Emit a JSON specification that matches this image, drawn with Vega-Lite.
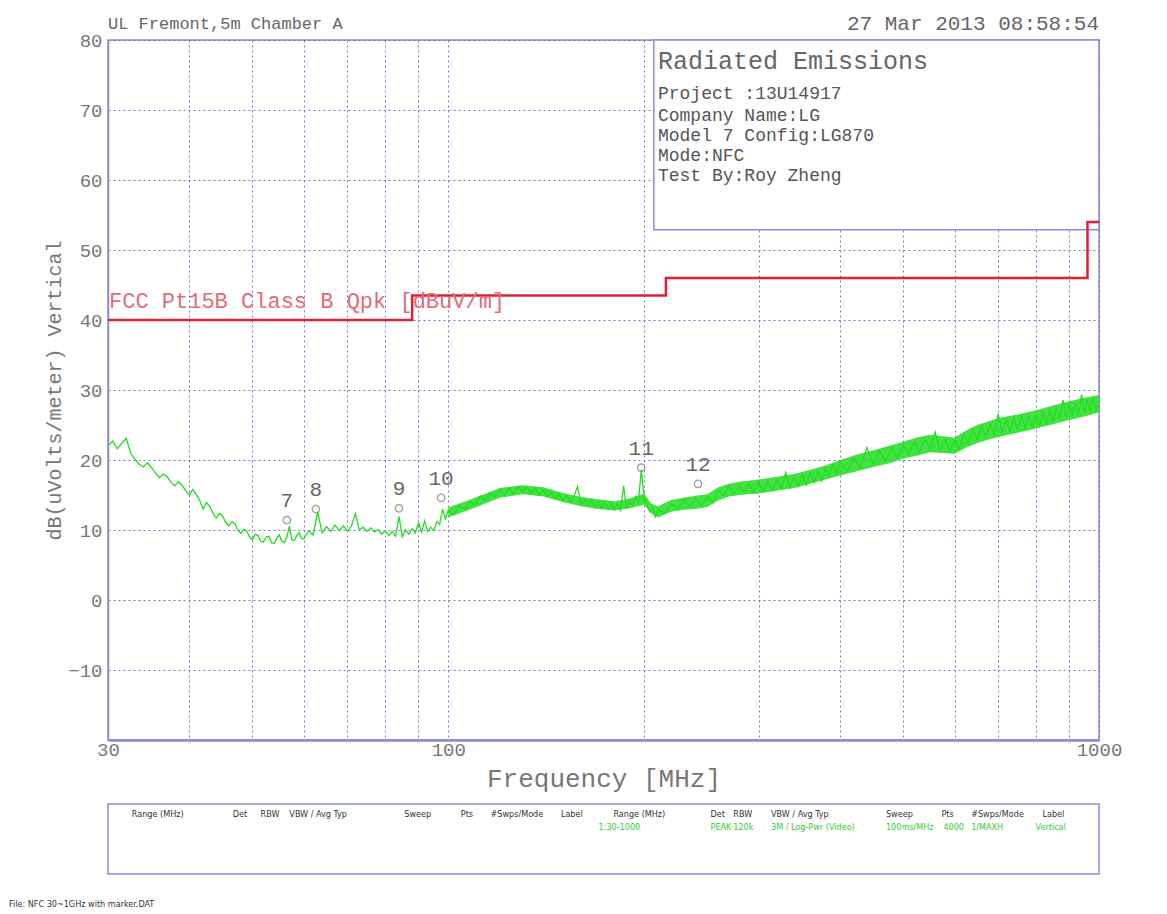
{
  "$schema": "https://vega.github.io/schema/vega-lite/v6.json",
  "background": "white",
  "padding": {"left": 8, "top": 12, "right": 5, "bottom": 5},
  "spacing": 11,
  "datasets": {
    "trace": [
      {"f":30,"v":22.0},{"f":30.5,"v":22.7},{"f":31,"v":21.6},{"f":31.5,"v":22.4},{"f":32,"v":23.1},{"f":32.5,"v":21.0},{"f":33,"v":20.1},{"f":33.5,"v":19.4},{"f":34,"v":19.0},{"f":34.5,"v":19.6},
      {"f":35,"v":18.9},{"f":35.5,"v":18.1},{"f":36,"v":17.5},{"f":36.5,"v":18.0},{"f":37,"v":17.6},{"f":37.5,"v":16.8},{"f":38,"v":16.3},{"f":38.5,"v":16.9},{"f":39,"v":16.4},{"f":39.5,"v":15.6},
      {"f":40,"v":15.0},{"f":40.5,"v":15.8},{"f":41,"v":15.1},{"f":41.5,"v":14.2},{"f":42,"v":13.0},{"f":42.5,"v":13.9},{"f":43,"v":13.4},{"f":43.5,"v":12.4},{"f":44,"v":11.7},{"f":44.5,"v":12.4},
      {"f":45,"v":12.0},{"f":45.5,"v":11.1},{"f":46,"v":10.6},{"f":46.5,"v":11.2},{"f":47,"v":10.9},{"f":47.5,"v":10.0},{"f":48,"v":9.5},{"f":48.5,"v":10.1},{"f":49,"v":9.9},{"f":49.5,"v":9.0},
      {"f":50,"v":8.6},{"f":50.5,"v":9.4},{"f":51,"v":9.2},{"f":51.5,"v":8.4},{"f":52,"v":8.3},{"f":52.5,"v":9.0},{"f":53,"v":9.1},{"f":53.5,"v":8.2},{"f":54,"v":8.1},{"f":54.5,"v":8.8},
      {"f":55,"v":9.3},{"f":55.5,"v":8.4},{"f":56,"v":8.2},{"f":56.5,"v":9.0},{"f":57,"v":10.6},{"f":57.5,"v":8.6},{"f":58,"v":8.5},{"f":58.5,"v":9.2},{"f":59,"v":9.6},{"f":59.5,"v":8.8},
      {"f":60,"v":8.7},{"f":61,"v":9.9},{"f":62,"v":9.3},{"f":63,"v":12.6},{"f":64,"v":9.6},{"f":65,"v":10.5},{"f":66,"v":9.8},{"f":67,"v":10.7},{"f":68,"v":9.9},{"f":69,"v":10.6},
      {"f":70,"v":9.8},{"f":71,"v":10.6},{"f":72,"v":12.3},{"f":73,"v":10.0},{"f":74,"v":10.4},{"f":75,"v":9.8},{"f":76,"v":10.3},{"f":77,"v":9.7},{"f":78,"v":10.1},{"f":79,"v":9.4},
      {"f":80,"v":9.9},{"f":81,"v":9.2},{"f":82,"v":9.8},{"f":83,"v":9.1},{"f":84,"v":11.9},{"f":85,"v":9.0},{"f":86,"v":10.0},{"f":87,"v":9.4},{"f":88,"v":10.2},{"f":89,"v":9.6},
      {"f":90,"v":11.0},{"f":91,"v":9.7},{"f":92,"v":11.3},{"f":93,"v":9.8},{"f":94,"v":10.4},{"f":95,"v":9.9},{"f":96,"v":11.2},{"f":97,"v":10.8},{"f":98,"v":13.0},{"f":99,"v":11.6},
      {"f":100,"v":12.8},{"f":102,"v":12.2},{"f":104,"v":13.5},{"f":106,"v":12.9},{"f":108,"v":14.1},{"f":110,"v":13.6},{"f":112,"v":14.9},{"f":114,"v":14.2},{"f":116,"v":15.3},{"f":118,"v":14.7},
      {"f":120,"v":15.8},{"f":122,"v":15.0},{"f":124,"v":16.0},{"f":126,"v":15.2},{"f":128,"v":16.2},{"f":130,"v":15.4},{"f":132,"v":16.2},{"f":134,"v":15.2},{"f":136,"v":16.0},{"f":138,"v":15.0},
      {"f":140,"v":15.7},{"f":142,"v":14.7},{"f":144,"v":15.5},{"f":146,"v":14.4},{"f":148,"v":15.2},{"f":150,"v":14.1},{"f":152,"v":15.0},{"f":154,"v":14.0},{"f":156,"v":14.8},{"f":158,"v":16.2},
      {"f":160,"v":13.6},{"f":162,"v":14.4},{"f":164,"v":13.4},{"f":166,"v":14.3},{"f":168,"v":13.2},{"f":170,"v":14.1},{"f":172,"v":13.1},{"f":174,"v":14.0},{"f":176,"v":13.0},{"f":178,"v":13.9},
      {"f":180,"v":12.9},{"f":182,"v":13.8},{"f":184,"v":12.8},{"f":186,"v":16.3},{"f":188,"v":13.0},{"f":190,"v":14.2},{"f":192,"v":13.5},{"f":194,"v":14.8},{"f":196,"v":14.1},{"f":198,"v":18.6},
      {"f":200,"v":14.6},{"f":202,"v":13.6},{"f":204,"v":12.6},{"f":206,"v":13.1},{"f":208,"v":11.9},{"f":210,"v":12.9},{"f":215,"v":12.4},{"f":220,"v":13.8},{"f":225,"v":13.0},{"f":230,"v":14.3},
      {"f":235,"v":13.3},{"f":240,"v":14.5},{"f":245,"v":13.5},{"f":250,"v":14.8},{"f":255,"v":13.9},{"f":260,"v":15.6},{"f":265,"v":14.9},{"f":270,"v":16.3},{"f":275,"v":15.1},{"f":280,"v":16.5},
      {"f":285,"v":15.3},{"f":290,"v":16.7},{"f":295,"v":15.4},{"f":300,"v":16.8},{"f":305,"v":15.5},{"f":310,"v":17.0},{"f":315,"v":15.7},{"f":320,"v":17.2},{"f":325,"v":15.9},{"f":330,"v":18.2},
      {"f":335,"v":16.0},{"f":340,"v":17.6},{"f":345,"v":16.2},{"f":350,"v":17.9},{"f":355,"v":16.4},{"f":360,"v":18.2},{"f":365,"v":16.8},{"f":370,"v":18.5},{"f":375,"v":17.0},{"f":380,"v":18.8},
      {"f":385,"v":17.6},{"f":390,"v":19.4},{"f":395,"v":18.0},{"f":400,"v":19.8},{"f":410,"v":18.4},{"f":420,"v":20.3},{"f":430,"v":18.9},{"f":440,"v":21.8},{"f":450,"v":19.4},{"f":460,"v":21.3},
      {"f":470,"v":19.9},{"f":480,"v":21.8},{"f":490,"v":20.3},{"f":500,"v":22.2},{"f":510,"v":20.7},{"f":520,"v":22.6},{"f":530,"v":21.1},{"f":540,"v":23.0},{"f":550,"v":21.5},{"f":560,"v":24.0},
      {"f":570,"v":21.4},{"f":580,"v":23.0},{"f":590,"v":21.2},{"f":600,"v":22.9},{"f":610,"v":21.5},{"f":620,"v":23.6},{"f":630,"v":22.3},{"f":640,"v":24.4},{"f":650,"v":22.9},{"f":660,"v":24.8},
      {"f":670,"v":23.3},{"f":680,"v":25.2},{"f":690,"v":23.7},{"f":700,"v":26.6},{"f":710,"v":23.9},{"f":720,"v":25.7},{"f":730,"v":24.1},{"f":740,"v":26.0},{"f":750,"v":24.3},{"f":760,"v":26.2},
      {"f":770,"v":24.5},{"f":780,"v":26.3},{"f":790,"v":24.7},{"f":800,"v":26.5},{"f":810,"v":24.9},{"f":820,"v":26.8},{"f":830,"v":25.2},{"f":840,"v":27.1},{"f":850,"v":25.5},{"f":860,"v":27.4},
      {"f":870,"v":25.8},{"f":880,"v":28.6},{"f":890,"v":26.1},{"f":900,"v":28.0},{"f":910,"v":26.3},{"f":920,"v":28.2},{"f":930,"v":26.5},{"f":940,"v":29.3},{"f":950,"v":26.7},{"f":960,"v":28.7},
      {"f":970,"v":26.9},{"f":980,"v":28.9},{"f":990,"v":27.1},{"f":1000,"v":28.6}
    ],
    "band": [
      {"f":100,"lo":11.8,"hi":13.2},{"f":110,"lo":13.2,"hi":14.6},{"f":120,"lo":14.6,"hi":16.0},{"f":130,"lo":15.1,"hi":16.4},{"f":140,"lo":14.8,"hi":16.1},
      {"f":150,"lo":14.0,"hi":15.3},{"f":160,"lo":13.4,"hi":14.7},{"f":170,"lo":13.0,"hi":14.4},{"f":180,"lo":12.8,"hi":14.1},{"f":190,"lo":13.1,"hi":14.5},
      {"f":200,"lo":13.6,"hi":15.2},{"f":205,"lo":12.4,"hi":13.8},{"f":210,"lo":11.8,"hi":13.4},{"f":220,"lo":12.6,"hi":14.3},{"f":230,"lo":12.9,"hi":14.6},
      {"f":240,"lo":13.0,"hi":14.9},{"f":250,"lo":13.3,"hi":15.1},{"f":260,"lo":14.2,"hi":16.1},{"f":270,"lo":14.8,"hi":16.6},{"f":280,"lo":15.0,"hi":16.9},
      {"f":300,"lo":15.2,"hi":17.2},{"f":320,"lo":15.6,"hi":17.6},{"f":340,"lo":16.0,"hi":18.0},{"f":360,"lo":16.6,"hi":18.6},{"f":380,"lo":17.2,"hi":19.2},
      {"f":400,"lo":17.8,"hi":20.0},{"f":425,"lo":18.4,"hi":20.8},{"f":450,"lo":19.0,"hi":21.4},{"f":475,"lo":19.5,"hi":22.0},{"f":500,"lo":20.2,"hi":22.6},
      {"f":525,"lo":20.6,"hi":23.2},{"f":550,"lo":21.1,"hi":23.6},{"f":575,"lo":21.0,"hi":23.4},{"f":600,"lo":20.9,"hi":23.2},{"f":625,"lo":21.8,"hi":24.2},
      {"f":650,"lo":22.4,"hi":25.0},{"f":675,"lo":22.9,"hi":25.5},{"f":700,"lo":23.3,"hi":26.0},{"f":750,"lo":23.9,"hi":26.5},{"f":800,"lo":24.5,"hi":27.1},
      {"f":850,"lo":25.1,"hi":27.8},{"f":900,"lo":25.7,"hi":28.4},{"f":950,"lo":26.2,"hi":28.9},{"f":1000,"lo":26.8,"hi":29.3}
    ],
    "limit": [
      {"f":30,"v":40},{"f":88,"v":43.5},{"f":216,"v":46},{"f":960,"v":54},{"f":1000,"v":54}
    ],
    "markers": [
      {"f":56.5,"v":11.4,"label":"7"},{"f":62.6,"v":13.0,"label":"8"},{"f":84.0,"v":13.1,"label":"9"},
      {"f":97.5,"v":14.6,"label":"10"},{"f":197.9,"v":18.9,"label":"11"},{"f":242,"v":16.6,"label":"12"}
    ],
    "box": [{"f":207,"f2":1000,"v":52.9,"v2":80}],
    "info": [
      {"f":210,"v":72.3,"t":"Project :13U14917"},
      {"f":210,"v":69.1,"t":"Company Name:LG"},
      {"f":210,"v":66.3,"t":"Model 7 Config:LG870"},
      {"f":210,"v":63.4,"t":"Mode:NFC"},
      {"f":210,"v":60.6,"t":"Test By:Roy Zheng"}
    ],
    "table": [
      {"x":2.4,"y":8.6,"t":"Range (MHz)","kind":"header"},
      {"x":12.6,"y":8.6,"t":"Det","kind":"header"},
      {"x":15.4,"y":8.6,"t":"RBW","kind":"header"},
      {"x":18.3,"y":8.6,"t":"VBW / Avg Typ","kind":"header"},
      {"x":29.9,"y":8.6,"t":"Sweep","kind":"header"},
      {"x":35.6,"y":8.6,"t":"Pts","kind":"header"},
      {"x":38.6,"y":8.6,"t":"#Swps/Mode","kind":"header"},
      {"x":45.7,"y":8.6,"t":"Label","kind":"header"},
      {"x":51.0,"y":8.6,"t":"Range (MHz)","kind":"header"},
      {"x":60.8,"y":8.6,"t":"Det","kind":"header"},
      {"x":63.1,"y":8.6,"t":"RBW","kind":"header"},
      {"x":66.9,"y":8.6,"t":"VBW / Avg Typ","kind":"header"},
      {"x":78.5,"y":8.6,"t":"Sweep","kind":"header"},
      {"x":84.1,"y":8.6,"t":"Pts","kind":"header"},
      {"x":87.1,"y":8.6,"t":"#Swps/Mode","kind":"header"},
      {"x":94.3,"y":8.6,"t":"Label","kind":"header"},
      {"x":49.5,"y":6.7,"t":"1:30-1000","kind":"data"},
      {"x":60.8,"y":6.7,"t":"PEAK","kind":"data"},
      {"x":63.1,"y":6.7,"t":"120k","kind":"data"},
      {"x":66.9,"y":6.7,"t":"3M / Log-Pwr (Video)","kind":"data"},
      {"x":78.5,"y":6.7,"t":"100ms/MHz","kind":"data"},
      {"x":84.3,"y":6.7,"t":"4000","kind":"data"},
      {"x":87.1,"y":6.7,"t":"1/MAXH","kind":"data"},
      {"x":93.6,"y":6.7,"t":"Vertical","kind":"data"},
      {"x":-10.0,"y":-4.3,"t":"File: NFC 30~1GHz with marker.DAT","kind":"file"}
    ]
  },
  "vconcat": [
    {
      "width": 991,
      "height": 700,
      "encoding": {
        "x": {
          "field": "f", "type": "quantitative",
          "scale": {"type": "log", "domain": [30, 1000], "nice": false, "zero": false},
          "axis": {
            "title": "Frequency [MHz]",
            "values": [30,40,50,60,70,80,90,100,200,300,400,500,600,700,800,900,1000],
            "format": "d",
            "labelExpr": "(datum.value == 30 || datum.value == 100 || datum.value == 1000) ? datum.label : ''",
            "labelPadding": 0,
            "labelFontSize": 19,
            "titleFontSize": 26,
            "titlePadding": 6,
            "domainWidth": 2.5,
            "labelFlush": false,
            "labelOverlap": false
          }
        },
        "y": {
          "field": "v", "type": "quantitative",
          "scale": {"domain": [-20, 80], "nice": false, "zero": false},
          "axis": {
            "title": "dB(uVolts/meter) Vertical",
            "values": [-20,-10,0,10,20,30,40,50,60,70,80],
            "labelExpr": "datum.value == -20 ? '' : datum.label",
            "labelPadding": 6,
            "labelFontSize": 19,
            "titleFontSize": 20,
            "titlePadding": 4,
            "minExtent": 40,
            "maxExtent": 40,
            "domainWidth": 1.5
          }
        }
      },
      "layer": [
        {
          "data": {"name": "box"},
          "mark": {"type": "rect", "fill": "white", "stroke": "#8a8ad8", "strokeWidth": 1.5},
          "encoding": {"x2": {"field": "f2"}, "y2": {"field": "v2"}}
        },
        {
          "data": {"name": "band"},
          "mark": {"type": "area", "color": "#22dd22", "opacity": 0.85},
          "encoding": {"y": {"field": "lo", "type": "quantitative"}, "y2": {"field": "hi"}}
        },
        {
          "data": {"name": "trace"},
          "mark": {"type": "line", "color": "#22dd22", "strokeWidth": 1.3}
        },
        {
          "data": {"name": "limit"},
          "mark": {"type": "line", "color": "#dd2233", "strokeWidth": 2.5, "interpolate": "step-after"}
        },
        {
          "data": {"name": "markers"},
          "mark": {"type": "point", "shape": "circle", "filled": false, "stroke": "#777777", "strokeWidth": 1.3, "size": 55}
        },
        {
          "data": {"name": "markers"},
          "mark": {"type": "text", "font": "Liberation Mono", "fontSize": 21, "color": "#666666", "dy": -19},
          "encoding": {"text": {"field": "label"}}
        },
        {
          "data": {"values": [{"f": 30, "v": 42.7, "t": "FCC Pt15B Class B Qpk [dBuV/m]"}]},
          "mark": {"type": "text", "font": "Liberation Mono", "fontSize": 22, "color": "#e46a7a", "align": "left", "baseline": "middle", "dx": 1},
          "encoding": {"text": {"field": "t"}}
        },
        {
          "data": {"values": [{"f": 210, "v": 77.0, "t": "Radiated Emissions"}]},
          "mark": {"type": "text", "font": "Liberation Mono", "fontSize": 25, "color": "#666666", "align": "left", "baseline": "middle"},
          "encoding": {"text": {"field": "t"}}
        },
        {
          "data": {"name": "info"},
          "mark": {"type": "text", "font": "Liberation Mono", "fontSize": 18, "color": "#555555", "align": "left", "baseline": "middle"},
          "encoding": {"text": {"field": "t"}}
        },
        {
          "data": {"values": [{"f": 30, "v": 80, "t": "UL Fremont,5m Chamber A"}]},
          "mark": {"type": "text", "font": "Liberation Mono", "fontSize": 17, "color": "#666666", "align": "left", "baseline": "middle", "dy": -16},
          "encoding": {"text": {"field": "t"}}
        },
        {
          "data": {"values": [{"f": 1000, "v": 80, "t": "27 Mar 2013   08:58:54"}]},
          "mark": {"type": "text", "font": "Liberation Mono", "fontSize": 21, "color": "#666666", "align": "right", "baseline": "middle", "dy": -16},
          "encoding": {"text": {"field": "t"}}
        }
      ]
    },
    {
      "width": 991,
      "height": 70,
      "layer": [
        {
          "mark": {"type": "rule", "color": "#8a8ad8", "strokeWidth": 2},
          "encoding": {"x": {"datum": 48.4, "type": "quantitative", "scale": {"domain": [0, 100], "nice": false, "zero": false}, "axis": null}}
        },
        {
          "data": {"name": "table"},
          "mark": {"type": "text", "font": "DejaVu Sans Condensed", "fontSize": 9, "align": "left", "baseline": "middle", "clip": false},
          "encoding": {
            "x": {"field": "x", "type": "quantitative", "scale": {"domain": [0, 100], "nice": false, "zero": false}, "axis": null},
            "y": {"field": "y", "type": "quantitative", "scale": {"domain": [0, 10], "nice": false, "zero": false}, "axis": null},
            "text": {"field": "t"},
            "color": {"field": "kind", "type": "nominal", "scale": {"domain": ["header", "data", "file"], "range": ["#333333", "#33cc33", "#333333"]}, "legend": null}
          }
        }
      ]
    }
  ],
  "config": {
    "view": {"stroke": "#8a8ad8", "strokeWidth": 1.5},
    "axis": {
      "grid": true,
      "gridColor": "#6a6ad0",
      "gridDash": [2, 3],
      "gridWidth": 1,
      "gridOpacity": 0.9,
      "domainColor": "#8a8ad8",
      "ticks": false,
      "labelFont": "Liberation Mono",
      "titleFont": "Liberation Mono",
      "labelColor": "#777777",
      "titleColor": "#777777",
      "titleFontWeight": "normal"
    }
  }
}
